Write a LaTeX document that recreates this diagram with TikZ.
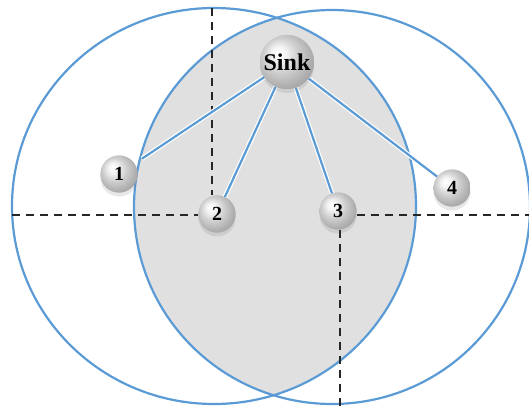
\documentclass[tikz,border=0pt]{standalone}
\usepackage{fontspec}
\setmainfont{Liberation Serif}
\usetikzlibrary{shadows}
\definecolor{cblue}{RGB}{91,155,213}
\definecolor{lens}{RGB}{224,224,224}
\pgfdeclareradialshading{silverball}{\pgfpoint{-9bp}{9bp}}{%
  color(0bp)=(white); color(7bp)=(white!90!gray); color(16bp)=(gray!38);
  color(26bp)=(gray!62); color(34bp)=(gray!78); color(50bp)=(gray!78)}
\tikzset{
  rangecirc/.style={draw=cblue, line width=2.2pt},
  sensorball/.style={circle, inner sep=0pt, shading=silverball,
    font=\bfseries\fontsize{20}{20}\selectfont, minimum size=37pt,
    drop shadow={shadow xshift=0pt, shadow yshift=-4pt, opacity=0.10}},
  sinkball/.style={sensorball, minimum size=54pt, font=\bfseries\fontsize{24}{24}\selectfont},
  linkline/.style={draw=cblue, line width=2.2pt, preaction={draw=white, line width=4.6pt}},
  guideline/.style={draw=black!85, line width=1.1pt, dash pattern=on 8pt off 6pt}
}
\begin{document}
\begin{tikzpicture}[x=1pt,y=-1pt]
\useasboundingbox (0,0) rectangle (529,406);
% lens
\begin{scope}
  \clip (214,206) ellipse [x radius=202, y radius=198];
  \fill[lens] (332,207) ellipse [x radius=198, y radius=197];
\end{scope}
% range circles
\draw[rangecirc] (214,206) ellipse [x radius=202, y radius=198];
\draw[rangecirc] (332,207) ellipse [x radius=198, y radius=197];
% nodes
\node[sinkball] (sink) at (287,62) {Sink};
\node[sensorball] (n1) at (119,174) {1};
\node[sensorball] (n2) at (217,214) {2};
\node[sensorball] (n3) at (338,211) {3};
\node[sensorball] (n4) at (452,188) {4};
% guide lines
\coordinate (t2) at (212,8);
\coordinate (l2) at (12,215);
\coordinate (r3) at (529,215);
\coordinate (b3) at (340,406);
\draw[guideline] (t2) -- (t2 |- n2.north);
\draw[guideline] (l2) -- (n2.west |- l2);
\draw[guideline] (n3.east |- r3) -- (r3);
\draw[guideline] (b3 |- n3.south) -- (b3);
% links
\path[linkline, shorten >=9pt] (sink) -- (n1);
\path[linkline] (sink) -- (n2);
\path[linkline] (sink) -- (n3);
\path[linkline] (sink) -- (n4);
% redraw nodes on top
\node[sinkball] at (sink) {Sink};
\node[sensorball] at (n1) {1};
\node[sensorball] at (n2) {2};
\node[sensorball] at (n3) {3};
\node[sensorball] at (n4) {4};
\end{tikzpicture}
\end{document}
